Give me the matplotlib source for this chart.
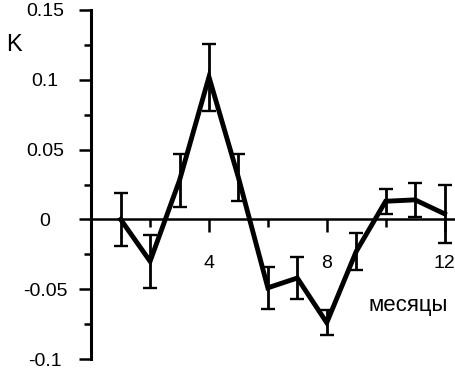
import numpy as np
import matplotlib
matplotlib.use("Agg")
import matplotlib.pyplot as plt

plt.rcParams['font.family'] = ['Liberation Sans', 'DejaVu Sans']

months = [1, 2, 3, 4, 5, 6, 7, 8, 9, 10, 11, 12]
values = [0.0, -0.030, 0.028, 0.102, 0.030, -0.049, -0.042, -0.074, -0.023, 0.013, 0.014, 0.004]
errors = [0.019, 0.019, 0.019, 0.024, 0.017, 0.015, 0.015, 0.009, 0.013, 0.009, 0.012, 0.021]

x_major = [4, 8, 12]
x_major_labels = ['4', '8', '12']
x_minor = [2, 6, 10]
y_major = [-0.1, -0.05, 0.0, 0.05, 0.1, 0.15]
y_major_labels = ['-0.1', '-0.05', '0', '0.05', '0.1', '0.15']
y_minor = [-0.075, -0.025, 0.025, 0.075, 0.125]

W, H = 456, 369
fig = plt.figure(figsize=(W / 100, H / 100), dpi=100)
ax = fig.add_axes([91.2 / W, 10 / H, (W - 91.2) / W, 349 / H])
ax.set_xlim(0, 12.39)
ax.set_ylim(-0.1, 0.15)

ax.errorbar(months, values, yerr=errors, fmt='none', ecolor='black',
            elinewidth=2.0, capsize=5, capthick=1.7, zorder=3, clip_on=False)
ax.plot(months, values, color='black', lw=3.5, zorder=4, clip_on=False,
        solid_joinstyle='miter')

ax.spines['top'].set_visible(False)
ax.spines['right'].set_visible(False)
ax.spines['bottom'].set_position(('data', 0))
ax.spines['left'].set_linewidth(2.2)
ax.spines['bottom'].set_linewidth(1.8)

ax.set_xticks(x_major)
ax.set_xticklabels(x_major_labels)
ax.set_xticks(x_minor, minor=True)
ax.set_yticks(y_major)
ax.set_yticklabels(y_major_labels)
ax.set_yticks(y_minor, minor=True)

ax.tick_params(axis='x', which='major', length=9.4, width=1.8, direction='out',
               pad=16, labelsize=14)
ax.tick_params(axis='x', which='minor', length=5.8, width=1.8, direction='out')
ax.tick_params(axis='y', which='major', length=8.6, width=1.8, direction='out',
               pad=24.6, labelsize=14)
ax.tick_params(axis='y', which='minor', length=5, width=1.8, direction='out')
plt.setp(ax.get_yticklabels(), ha='center')

fig.text(13.5 / W, 1 - 45 / H, 'K', ha='center', va='center', fontsize=17)
fig.text(408.5 / W, 1 - 305 / H, 'месяцы', ha='center', va='center', fontsize=16)

fig.savefig('out.png', dpi=100)
